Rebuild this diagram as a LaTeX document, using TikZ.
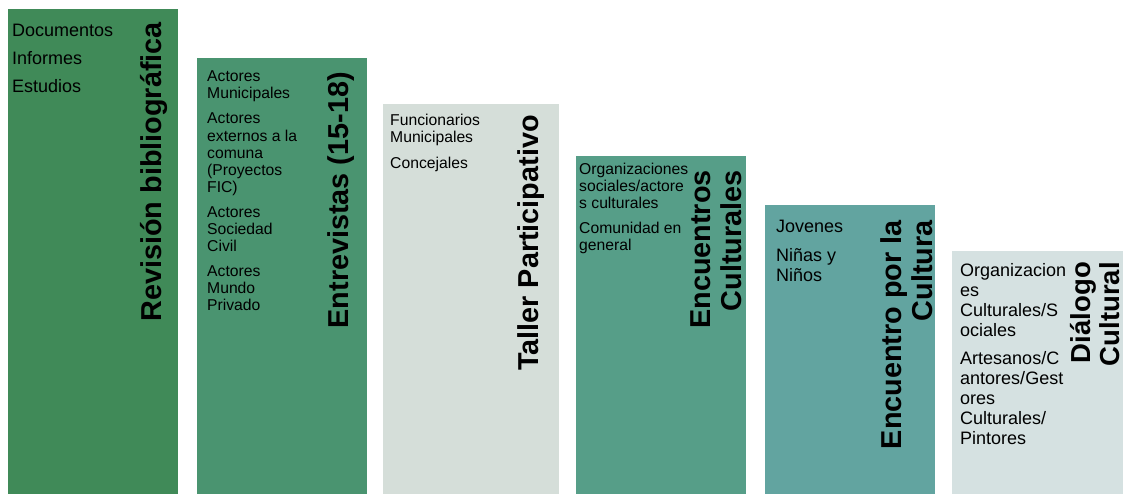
\documentclass[tikz,border=0pt]{standalone}
\usepackage{fontspec}
\setmainfont{Liberation Sans}
\usetikzlibrary{positioning}

\definecolor{verdeA}{RGB}{64,138,88}
\definecolor{verdeB}{RGB}{74,148,112}
\definecolor{grisA}{RGB}{213,222,217}
\definecolor{verdeC}{RGB}{86,158,136}
\definecolor{verdeD}{RGB}{98,164,160}
\definecolor{grisB}{RGB}{213,225,225}

\begin{document}
\begin{tikzpicture}[x=1pt, y=-1pt,
    lista/.style={anchor=north west, inner sep=0pt, align=left},
    grande/.style={font=\fontsize{18}{20}\selectfont},
    chica/.style={font=\fontsize{15.7}{17.1}\selectfont},
    titulo/.style={rotate=90, anchor=north east, inner sep=0pt, align=right,
        font=\fontsize{28.8}{31.6}\selectfont\bfseries}]

    \useasboundingbox (0,0) rectangle (1123,495);

    % Draw columns
    \foreach \x/\y/\w/\c in {8/9/170/verdeA, 197/58/170/verdeB, 383/104/176/grisA, 576/156/170/verdeC, 765/205/170/verdeD, 952/251/171/grisB} {
      \fill[\c] (\x,\y) rectangle ++(\w,494-\y);
    }

    % Titles
    \node[titulo] (revision) at (140,22) {Revisión bibliográfica};
    \node[titulo] (entrevistas) at (327,72) {Entrevistas (15-18)};
    \node[titulo] (taller) at (517,115) {Taller Participativo};
    \node[titulo] (encuentros) at (690,170) {Encuentros\\Culturales};
    \node[titulo] (encuentro) at (880,220) {Encuentro por la\\Cultura};
    \node[titulo, font=\fontsize{27.5}{29.5}\selectfont\bfseries] (dialogo) at (1070,262) {Diálogo\\Cultural};

    % Lists
    \node[lista, grande] (docs) at (12,24) {Documentos\\[8pt]Informes\\[8pt]Estudios};
    \node[lista, chica] (actores) at (207,70.7) {Actores\\Municipales\\[8pt]Actores\\externos a la\\comuna\\(Proyectos\\FIC)\\[8pt]Actores\\Sociedad\\Civil\\[8pt]Actores\\Mundo\\Privado};
    \node[lista, chica] (funcionarios) at (390,114.3) {Funcionarios\\Municipales\\[8pt]Concejales};
    \node[lista, chica] (organizaciones) at (579,162.7) {Organizaciones\\sociales/actore\\s culturales\\[7.5pt]Comunidad en\\general};
    \node[lista, grande] (jovenes) at (776,220) {Jovenes\\[9pt]Niñas y\\Niños};
    \node[lista, grande] (artesanos) at (960,263.3) {Organizacion\\es\\Culturales/S\\ociales\\[8pt]Artesanos/C\\antores/Gest\\ores\\Culturales/\\Pintores};

\end{tikzpicture}
\end{document}
